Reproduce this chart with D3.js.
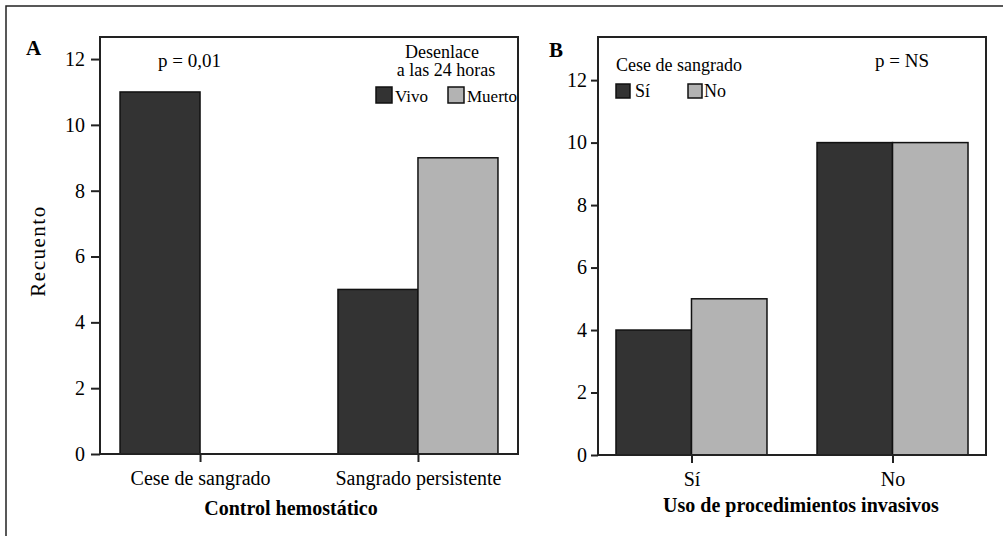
<!DOCTYPE html>
<html>
<head>
<meta charset="utf-8">
<script src="https://cdn.jsdelivr.net/npm/d3@7"></script>
<style>
    body { margin: 0; background: #fff; }
    text { font-family: "Liberation Serif", "Times New Roman", serif; fill: #000; }
</style>
</head>
<body>
<div id="chart"></div>
<script>
"use strict";

// panel A
const groupsA = ["Cese de sangrado", "Sangrado persistente"];
const seriesA = ["Vivo", "Muerto"];
const vivoA = [11, 5];
const muertoA = [0, 9];

// panel B
const groupsB = ["Sí", "No"];
const seriesB = ["Sí", "No"];
const siB = [4, 10];
const noB = [5, 10];

const yTicks = [0, 2, 4, 6, 8, 10, 12];
const colors = ["#333333", "#b3b3b3"];

const width = 1005;
const height = 536;

const svg = d3
    .select("#chart")
    .append("svg")
    .attr("width", width)
    .attr("height", height);

// outer frame (only top and left show in the picture)
svg.append("path")
    .attr("d", `M6,${height} V6 H1003`)
    .attr("fill", "none")
    .attr("stroke", "#222")
    .attr("stroke-width", 1.5);

function drawPanel(cfg) {
    const g = svg.append("g");

    const x = d3
        .scalePoint()
        .domain(cfg.groups)
        .range([cfg.left, cfg.right])
        .padding(cfg.padding);

    const xInner = d3
        .scaleBand()
        .domain(cfg.series)
        .range([-cfg.groupWidth / 2, cfg.groupWidth / 2]);

    const y = d3
        .scaleLinear()
        .domain([0, cfg.yMax])
        .range([cfg.bottom, cfg.top]);

    // bars
    const rows = cfg.groups.map((grp, i) => ({
        grp: grp,
        vals: cfg.series.map((s, j) => ({ s: s, v: cfg.values[j][i], c: colors[j] })),
    }));

    g.selectAll("g.grp")
        .data(rows)
        .enter()
        .append("g")
        .attr("class", "grp")
        .attr("transform", d => `translate(${x(d.grp)},0)`)
        .selectAll("rect")
        .data(d => d.vals.filter(e => e.v > 0))
        .enter()
        .append("rect")
        .attr("x", d => xInner(d.s))
        .attr("width", xInner.bandwidth())
        .attr("y", d => y(d.v))
        .attr("height", d => y(0) - y(d.v))
        .attr("fill", d => d.c)
        .attr("stroke", "#111")
        .attr("stroke-width", 1.5);

    // plot box
    g.append("rect")
        .attr("x", cfg.left)
        .attr("y", cfg.top)
        .attr("width", cfg.right - cfg.left)
        .attr("height", cfg.bottom - cfg.top)
        .attr("fill", "none")
        .attr("stroke", "#222")
        .attr("stroke-width", 2);

    // y axis
    const yAxis = d3
        .axisLeft(y)
        .tickValues(yTicks)
        .tickSize(cfg.tickLen)
        .tickPadding(cfg.tickPad)
        .tickFormat(d3.format("d"));

    const ya = g.append("g")
        .attr("transform", `translate(${cfg.left},0)`)
        .call(yAxis);
    ya.select(".domain").remove();
    ya.selectAll(".tick line").attr("stroke", "#222").attr("stroke-width", 2);
    ya.selectAll(".tick text")
        .attr("font-family", "Liberation Serif")
        .attr("font-size", 20)
        .attr("fill", "#000");

    // x axis
    const xAxis = d3.axisBottom(x).tickSize(8).tickPadding(9);
    const xa = g.append("g")
        .attr("transform", `translate(0,${cfg.bottom})`)
        .call(xAxis);
    xa.select(".domain").remove();
    xa.selectAll(".tick line").attr("stroke", "#222").attr("stroke-width", 2);
    xa.selectAll(".tick text")
        .attr("font-family", "Liberation Serif")
        .attr("font-size", 20)
        .attr("fill", "#000");

    // axis title
    g.append("text")
        .attr("x", cfg.titleX)
        .attr("y", cfg.titleY)
        .attr("text-anchor", "middle")
        .attr("font-size", 20)
        .attr("font-weight", "bold")
        .text(cfg.title);

    // panel letter
    g.append("text")
        .attr("x", cfg.letterX)
        .attr("y", cfg.letterY)
        .attr("font-size", 21)
        .attr("font-weight", "bold")
        .text(cfg.letter);

    // p value
    g.append("text")
        .attr("x", cfg.pX)
        .attr("y", 67)
        .attr("font-size", 19)
        .text(cfg.pText);

    return g;
}

const gA = drawPanel({
    groups: groupsA,
    series: seriesA,
    values: [vivoA, muertoA],
    left: 100,
    right: 518,
    top: 37,
    bottom: 454,
    yMax: 12.67,
    padding: 0.459,
    groupWidth: 160,
    tickLen: 9,
    tickPad: 6,
    title: "Control hemostático",
    titleX: 291,
    titleY: 515,
    letter: "A",
    letterX: 26,
    letterY: 55,
    pText: "p = 0,01",
    pX: 158,
});

const gB = drawPanel({
    groups: groupsB,
    series: seriesB,
    values: [siB, noB],
    left: 598,
    right: 986,
    top: 37,
    bottom: 455,
    yMax: 13.38,
    padding: 0.465,
    groupWidth: 151,
    tickLen: 7,
    tickPad: 4,
    title: "Uso de procedimientos invasivos",
    titleX: 801,
    titleY: 512,
    letter: "B",
    letterX: 549,
    letterY: 57,
    pText: "p = NS",
    pX: 875,
});

// legend A
gA.append("text")
    .attr("x", 442)
    .attr("y", 58)
    .attr("text-anchor", "middle")
    .attr("font-size", 18)
    .text("Desenlace");
gA.append("text")
    .attr("x", 446)
    .attr("y", 76)
    .attr("text-anchor", "middle")
    .attr("font-size", 18)
    .text("a las 24 horas");

const legA = [
    { label: seriesA[0], x: 376, c: colors[0] },
    { label: seriesA[1], x: 448, c: colors[1] },
];
legA.forEach(d => {
    gA.append("rect")
        .attr("x", d.x)
        .attr("y", 87)
        .attr("width", 16)
        .attr("height", 16)
        .attr("fill", d.c)
        .attr("stroke", "#111")
        .attr("stroke-width", 1.5);
    gA.append("text")
        .attr("x", d.x + 19)
        .attr("y", 102)
        .attr("font-size", 17)
        .text(d.label);
});

// legend B
gB.append("text")
    .attr("x", 616)
    .attr("y", 71)
    .attr("font-size", 18)
    .text("Cese de sangrado");

const legB = [
    { label: seriesB[0], x: 616, c: colors[0] },
    { label: seriesB[1], x: 688, c: colors[1] },
];
legB.forEach(d => {
    gB.append("rect")
        .attr("x", d.x)
        .attr("y", 84)
        .attr("width", 14)
        .attr("height", 14)
        .attr("fill", d.c)
        .attr("stroke", "#111")
        .attr("stroke-width", 1.5);
    gB.append("text")
        .attr("x", d.x + (d.label === "Sí" ? 19 : 16))
        .attr("y", 97)
        .attr("font-size", 18)
        .text(d.label);
});

// y axis label (panel A only)
svg.append("text")
    .attr("transform", "translate(45,251) rotate(-90)")
    .attr("text-anchor", "middle")
    .attr("font-size", 21)
    .attr("letter-spacing", 1.5)
    .text("Recuento");
</script>
</body>
</html>
